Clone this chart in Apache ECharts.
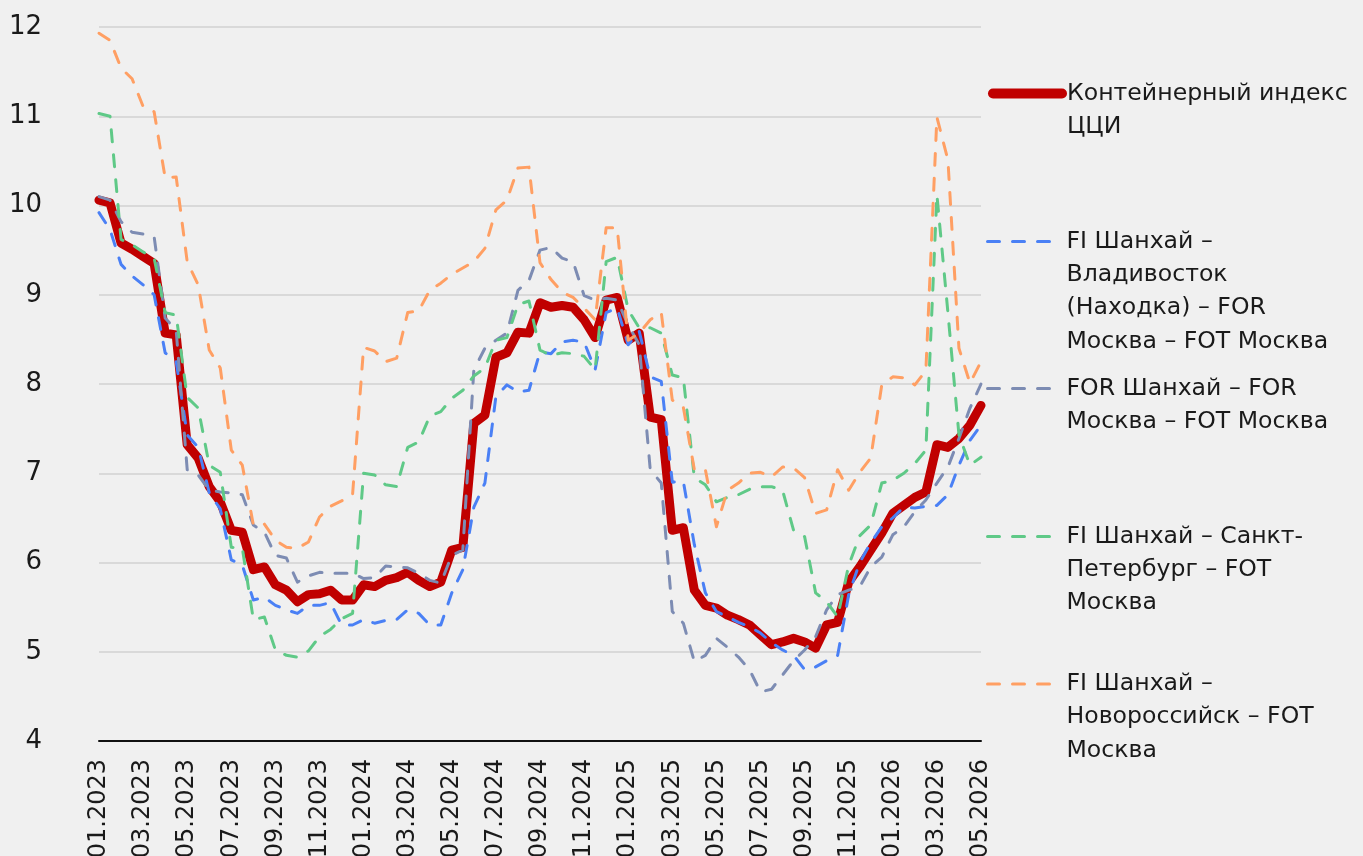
<!DOCTYPE html>
<html lang="ru">
<head>
<meta charset="utf-8">
<title>Контейнерный индекс ЦЦИ</title>
<script src="https://cdn.jsdelivr.net/npm/echarts@6.0.0/dist/echarts.min.js"></script>
<style>
  html, body { margin: 0; padding: 0; background: #f0f0f0; }
  #chart { width: 1363px; height: 856px; }
</style>
</head>
<body>
<div id="chart"></div>
<script>
const FONT = '"DejaVu Sans", sans-serif';

// two points per month, 01.2023 ... 05.2026
const months = [
  '01.2023', '02.2023', '03.2023', '04.2023', '05.2023', '06.2023', '07.2023', '08.2023', '09.2023', '10.2023', '11.2023', '12.2023',
  '01.2024', '02.2024', '03.2024', '04.2024', '05.2024', '06.2024', '07.2024', '08.2024', '09.2024', '10.2024', '11.2024', '12.2024',
  '01.2025', '02.2025', '03.2025', '04.2025', '05.2025', '06.2025', '07.2025', '08.2025', '09.2025', '10.2025', '11.2025', '12.2025',
  '01.2026', '02.2026', '03.2026', '04.2026', '05.2026'
];

const cciIndex = [
  10.06, 10.03, 9.58, 9.51, 9.43, 9.35, 8.57, 8.55, 7.32, 7.17,
  6.85, 6.68, 6.36, 6.34, 5.92, 5.95, 5.75, 5.69, 5.56, 5.64,
  5.65, 5.69, 5.58, 5.58, 5.75, 5.73, 5.8, 5.83, 5.89, 5.8,
  5.73, 5.78, 6.14, 6.17, 7.56, 7.65, 8.3, 8.35, 8.58, 8.57,
  8.91, 8.86, 8.88, 8.86, 8.72, 8.52, 8.94, 8.97, 8.49, 8.57,
  7.63, 7.6, 6.36, 6.39, 5.69, 5.52, 5.49, 5.41, 5.36, 5.3,
  5.19, 5.08, 5.11, 5.15, 5.11, 5.04, 5.3, 5.33, 5.78, 5.95,
  6.14, 6.33, 6.55, 6.64, 6.73, 6.79, 7.32, 7.29, 7.39, 7.54,
  7.76
];

const fiVladivostok = [
  9.92, 9.73, 9.34, 9.21, 9.11, 9.0, 8.35, 8.25, 7.43, 7.29,
  6.78, 6.6, 6.03, 5.97, 5.58, 5.61, 5.52, 5.47, 5.43, 5.52,
  5.52, 5.55, 5.3, 5.3, 5.36, 5.32, 5.35, 5.36, 5.47, 5.43,
  5.3, 5.3, 5.66, 5.92, 6.62, 6.89, 7.86, 7.99, 7.91, 7.93,
  8.36, 8.34, 8.47, 8.49, 8.47, 8.16, 8.8, 8.85, 8.44, 8.59,
  8.08, 8.03, 6.9, 6.91, 6.2, 5.66, 5.45, 5.39, 5.33, 5.28,
  5.21, 5.1, 5.02, 4.96, 4.8, 4.83, 4.9, 4.96, 5.64, 6.0,
  6.22, 6.4, 6.5, 6.62, 6.61, 6.63, 6.64, 6.76, 7.09, 7.37,
  7.54
];

const forShanghai = [
  10.1, 10.06, 9.82, 9.7, 9.68, 9.65, 8.74, 8.6, 7.04, 6.98,
  6.81, 6.79, 6.78, 6.76, 6.42, 6.34, 6.08, 6.05, 5.78, 5.85,
  5.89, 5.88, 5.88, 5.88, 5.82, 5.83, 5.96, 5.95, 5.94, 5.88,
  5.8, 5.77, 6.08, 6.14, 8.16, 8.4, 8.49, 8.57, 9.05, 9.16,
  9.5, 9.53, 9.41, 9.37, 8.99, 8.94, 8.96, 8.94, 8.66, 8.44,
  7.04, 6.89, 5.45, 5.32, 4.89, 4.96, 5.15, 5.05, 4.94, 4.8,
  4.55, 4.58, 4.74, 4.9, 5.02, 5.17, 5.47, 5.64, 5.69, 5.73,
  5.95, 6.06, 6.31, 6.4, 6.57, 6.7, 6.89, 7.07, 7.39, 7.73,
  8.0
];

const fiSaintPetersburg = [
  11.03, 11.0, 9.62, 9.56, 9.48, 9.41, 8.8, 8.77, 7.85, 7.73,
  7.09, 7.01, 6.17, 6.16, 5.36, 5.39, 5.02, 4.96, 4.94, 5.01,
  5.17, 5.25, 5.37, 5.43, 7.0, 6.98, 6.87, 6.85, 7.29, 7.35,
  7.64, 7.69, 7.84, 7.93, 8.09, 8.18, 8.49, 8.52, 8.89, 8.93,
  8.38, 8.32, 8.35, 8.34, 8.31, 8.16, 9.37, 9.42, 8.83, 8.63,
  8.63, 8.57, 8.1, 8.07, 6.95, 6.87, 6.68, 6.73, 6.76, 6.82,
  6.85, 6.85, 6.81, 6.36, 6.29, 5.66, 5.56, 5.39, 5.97, 6.3,
  6.42, 6.89, 6.92, 7.0, 7.11, 7.26, 10.12, 8.8, 7.43, 7.09,
  7.18
];

const fiNovorossiysk = [
  11.93, 11.85, 11.54, 11.42, 11.11, 11.05, 10.31, 10.32, 9.37, 9.11,
  8.38, 8.18, 7.26, 7.09, 6.42, 6.43, 6.25, 6.17, 6.16, 6.23,
  6.51, 6.63, 6.69, 6.76, 8.41, 8.37, 8.25, 8.29, 8.8, 8.82,
  9.05, 9.13, 9.23, 9.3, 9.37, 9.52, 9.95, 10.06, 10.42, 10.43,
  9.36, 9.17, 9.03, 8.97, 8.85, 8.72, 9.75, 9.75, 8.49, 8.57,
  8.72, 8.8, 7.82, 7.74, 7.04, 7.04, 6.4, 6.81, 6.89, 7.0,
  7.01, 6.96, 7.07, 7.06, 6.95, 6.55, 6.59, 7.04, 6.81, 7.01,
  7.17, 7.99, 8.08, 8.07, 7.99, 8.15, 10.99, 10.51, 8.4, 8.01,
  8.25
];

const categories = [];
months.forEach((m, k) => {
  categories.push(m + '/1');
  if (k < months.length - 1) categories.push(m + '/2');
});

const seriesDefs = [
  { name: 'Контейнерный индекс ЦЦИ', lines: ['Контейнерный индекс', 'ЦЦИ'],
    data: cciIndex, color: '#c00000', width: 9, dash: 'solid', iconY: 93.5 },
  { name: 'FI Шанхай – Владивосток (Находка) – FOR Москва – FOT Москва',
    lines: ['FI Шанхай –', 'Владивосток', '(Находка) – FOR', 'Москва – FOT Москва'],
    data: fiVladivostok, color: '#4a80f5', width: 3, dash: [12, 13], iconY: 241.5 },
  { name: 'FOR Шанхай – FOR Москва – FOT Москва', lines: ['FOR Шанхай – FOR', 'Москва – FOT Москва'],
    data: forShanghai, color: '#7d8cb3', width: 3, dash: [12, 13], iconY: 388.5 },
  { name: 'FI Шанхай – Санкт-Петербург – FOT Москва', lines: ['FI Шанхай – Санкт-', 'Петербург – FOT', 'Москва'],
    data: fiSaintPetersburg, color: '#5fc987', width: 3, dash: [12, 13], iconY: 536.5 },
  { name: 'FI Шанхай – Новороссийск – FOT Москва', lines: ['FI Шанхай –', 'Новороссийск – FOT', 'Москва'],
    data: fiNovorossiysk, color: '#ff9f63', width: 3, dash: [12, 13], iconY: 684 }
];

const LH = 33.3;

const chart = echarts.init(document.getElementById('chart'), null, { renderer: 'canvas' });

chart.setOption({
  backgroundColor: '#f0f0f0',
  animation: false,
  textStyle: { fontFamily: FONT },
  grid: { left: 99, right: 382, top: 27, bottom: 115, outerBoundsMode: 'none' },
  // one legend per series, so each entry sits at its own height;
  // blank lines in front keep the icon level with the first text line
  legend: seriesDefs.map(s => {
    const n = s.lines.length;
    const thick = s.dash === 'solid';
    return {
      data: [s.name],
      orient: 'vertical',
      left: thick ? 988 : 986,
      top: s.iconY - (2 * n - 1) * LH / 2,
      padding: 0,
      itemWidth: thick ? 69 : 74,
      itemHeight: 14,
      selectedMode: false,
      formatter: () => '\n'.repeat(n - 1) + s.lines.join('\n'),
      textStyle: { fontFamily: FONT, fontSize: 23.6, lineHeight: LH, color: '#1a1a1a' },
      itemStyle: { opacity: 0 },
      lineStyle: { width: thick ? 10 : 3 }
    };
  }),
  xAxis: {
    type: 'category',
    data: categories,
    boundaryGap: false,
    axisLine: { lineStyle: { color: '#111', width: 2 } },
    axisTick: { show: false },
    splitLine: { show: false },
    axisLabel: {
      interval: 3,
      rotate: 90,
      margin: 18,
      fontFamily: FONT,
      fontSize: 24,
      color: '#1a1a1a',
      formatter: v => v.split('/')[0]
    }
  },
  yAxis: {
    type: 'value',
    min: 4,
    max: 12,
    interval: 1,
    axisLine: { show: false },
    axisTick: { show: false },
    splitLine: { lineStyle: { color: '#d9d9d9', width: 2 } },
    axisLabel: { margin: 57, fontFamily: FONT, fontSize: 26, color: '#1a1a1a' }
  },
  series: seriesDefs.map((s, k) => ({
    name: s.name,
    type: 'line',
    data: s.data,
    symbol: 'none',
    z: 2 + k,
    emphasis: { disabled: true },
    itemStyle: { color: s.color },
    lineStyle: { color: s.color, width: s.width, type: s.dash, cap: 'round', join: 'round' }
  }))
});
</script>
</body>
</html>
